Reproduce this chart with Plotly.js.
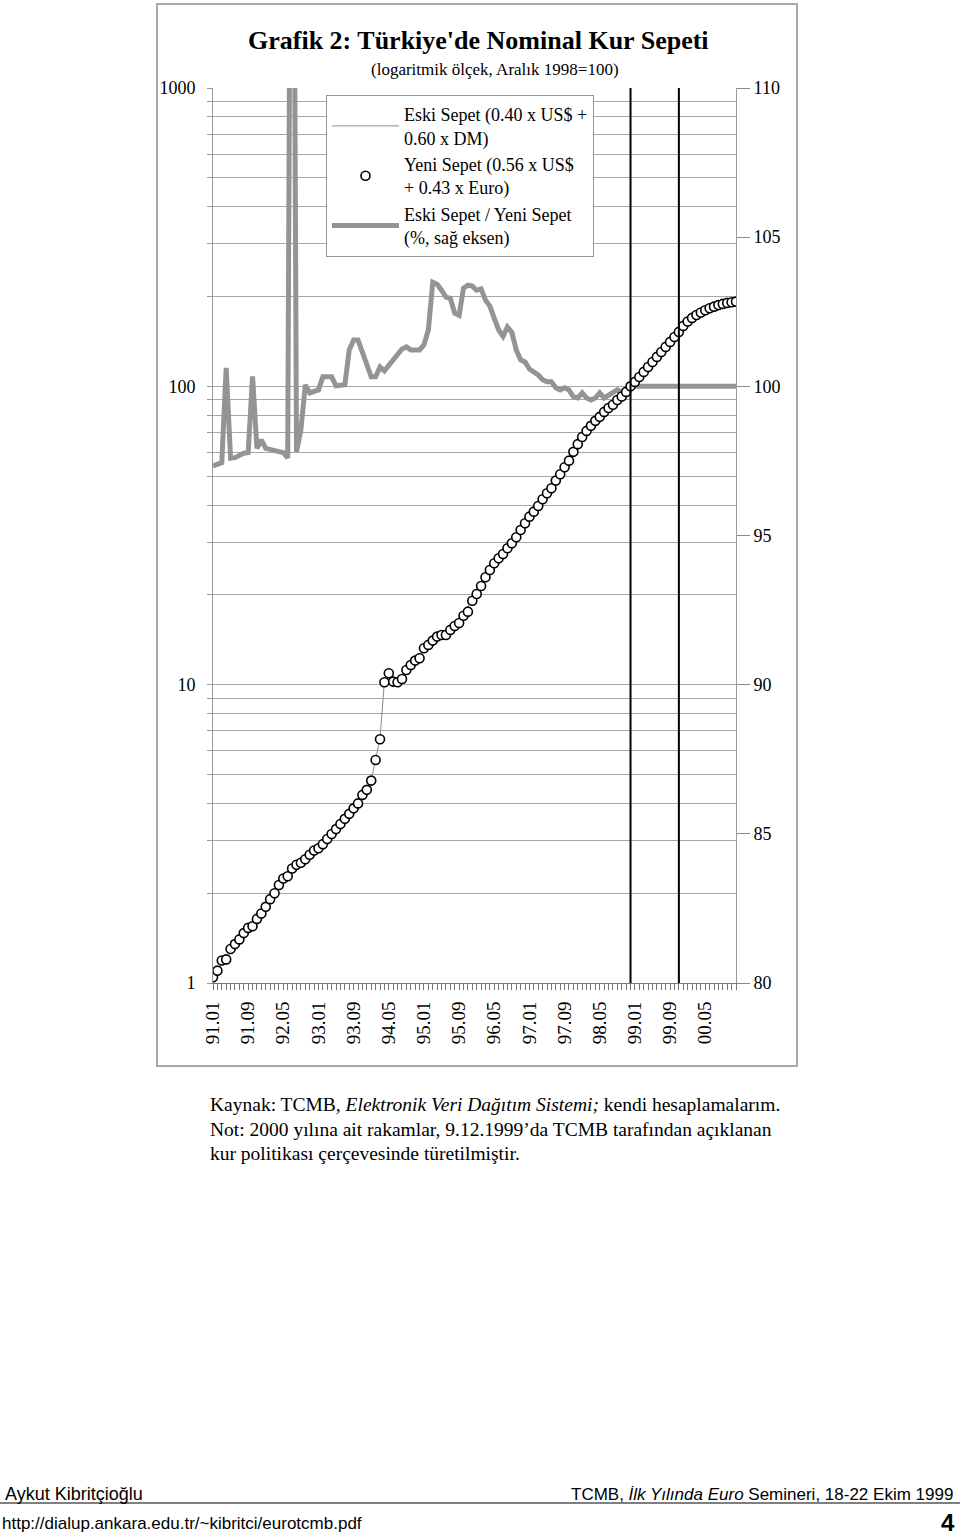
<!DOCTYPE html>
<html>
<head>
<meta charset="utf-8">
<script src="https://cdn.plot.ly/plotly-3.0.1.min.js"></script>
<style>
body{margin:0;padding:0;background:#fff;}
#chart{width:960px;height:1535px;}
</style>
</head>
<body>
<div id="chart"></div>
<script>
// aylar 91.01 ... 00.12
var months = [];
for (var y = 1991; y <= 2000; y++) {
  for (var m = 1; m <= 12; m++) {
    months.push(String(y % 100).padStart(2, '0') + '.' + String(m).padStart(2, '0'));
  }
}

var tickLabels = ['91.01','91.09','92.05','93.01','93.09','94.05','95.01','95.09','96.05','97.01','97.09','98.05','99.01','99.09','00.05'];
var lineMonths = ['98.12','99.11'];

var yeniSepet = [
  1.045,1.10,1.19,1.20,1.30,1.35,1.40,1.47,1.53,1.55,
  1.64,1.71,1.80,1.91,2.00,2.13,2.24,2.28,2.42,2.49,
  2.53,2.60,2.69,2.78,2.83,2.92,3.04,3.16,3.28,3.41,
  3.55,3.69,3.85,4.00,4.27,4.44,4.77,5.59,6.56,10.19,
  10.92,10.24,10.19,10.45,11.20,11.64,12.04,12.26,13.24,13.59,
  14.05,14.49,14.68,14.68,15.26,15.73,16.10,17.03,17.57,19.12,
  20.14,21.42,22.92,24.24,25.53,26.54,27.43,28.67,29.79,31.20,
  33.01,34.76,36.58,38.02,39.72,41.83,43.82,45.54,48.30,50.75,
  53.56,56.36,60.3,64.0,67.6,70.9,73.7,76.6,79.0,82.1,
  84.6,86.7,90.0,92.5,95.8,100,103.5,107.5,111.8,116.1,
  120.7,125.5,130.4,135.6,140.9,146.4,152.2,159.4,165.0,169.6,
  173.5,176.9,179.9,182.6,185.0,187.2,188.9,190.4,191.4,192.3
];

var eskiSepet = [
  1.017,1.071,1.160,1.207,1.269,1.318,1.368,1.437,1.496,1.555,
  1.606,1.679,1.763,1.869,1.957,2.083,2.190,2.225,2.367,2.435,
  2.493,2.601,2.684,2.776,2.827,2.929,3.050,3.170,3.281,3.411,
  3.552,3.735,3.910,4.062,4.319,4.471,4.785,5.608,6.603,10.24,
  10.99,10.33,10.30,10.58,11.35,11.78,12.19,12.41,13.42,13.85,
  14.54,14.99,15.15,15.12,15.71,16.12,16.48,17.59,18.17,19.76,
  20.79,22.12,23.58,24.89,26.11,27.04,27.89,29.24,30.33,31.58,
  33.30,35.05,36.79,38.20,39.87,41.92,43.89,45.61,48.28,50.69,
  53.53,56.29,60.09,63.75,67.45,70.62,73.36,76.30,78.83,81.78,
  84.35,86.51,89.89,92.32,95.72,100,103.5,107.5,111.8,116.1,
  120.7,125.5,130.4,135.6,140.9,146.4,152.2,159.4,165.0,169.6,
  173.5,176.9,179.9,182.6,185.0,187.2,188.9,190.4,191.4,192.3
];

var oran = [
  97.33,97.40,97.44,100.62,97.59,97.61,97.70,97.76,97.78,100.33,
  97.92,98.20,97.92,97.87,97.83,97.81,97.78,97.60,130,97.81,
  98.54,100.05,99.78,99.85,99.88,100.32,100.32,100.32,100.02,100.02,
  100.05,101.22,101.55,101.55,101.15,100.69,100.32,100.32,100.65,100.52,
  100.69,100.89,101.05,101.25,101.32,101.22,101.22,101.22,101.39,101.89,
  103.49,103.42,103.22,102.99,102.95,102.45,102.38,103.29,103.39,103.36,
  103.22,103.27,102.89,102.69,102.28,101.89,101.68,101.99,101.81,101.22,
  100.89,100.82,100.58,100.48,100.38,100.22,100.15,100.15,99.95,99.88,
  99.95,99.88,99.65,99.61,99.78,99.61,99.54,99.61,99.78,99.61,
  99.71,99.78,99.88,99.81,99.92,100,100,100,100,100,
  100,100,100,100,100,100,100,100,100,100,
  100,100,100,100,100,100,100,100,100,100
];

function px(x){ return (x-213)/523; }
function py(y){ return (983-y)/895; }

function ciz(){
  var idx = [];
  for (var i = 0; i < months.length; i++) idx.push(i);
  var tickIdx = tickLabels.map(function(t){ return months.indexOf(t); });

  var minorLog = [];
  [1,10,100].forEach(function(d){ for (var k = 2; k <= 9; k++) minorLog.push(k*d); });

  var serif = 'Liberation Serif, Times New Roman, serif';
  var narrow = 'Liberation Sans Narrow, Arial Narrow, sans-serif';

  var trace1 = {
    x: idx, y: eskiSepet, yaxis: 'y2', type: 'scatter', mode: 'lines',
    name: 'Eski Sepet (0.40 x US$ +<br>0.60 x DM)',
    line: {color: '#8c8c8c', width: 1}
  };
  var trace2 = {
    x: idx, y: yeniSepet, yaxis: 'y2', type: 'scatter', mode: 'markers',
    name: 'Yeni Sepet (0.56 x US$<br>+ 0.43 x Euro)',
    marker: {symbol: 'circle', size: 9, color: '#fff', line: {color: '#000', width: 1.6}}
  };
  var trace3 = {
    x: idx, y: oran, yaxis: 'y', type: 'scatter', mode: 'lines',
    name: 'Eski Sepet / Yeni Sepet<br>(%, sağ eksen)',
    line: {color: '#949494', width: 5}
  };

  var shapes = lineMonths.map(function(mm){
    return {type: 'line', xref: 'x', yref: 'paper', x0: months.indexOf(mm), x1: months.indexOf(mm),
            y0: 0, y1: 1, line: {color: '#000', width: 2}};
  });
  shapes.push({type: 'rect', xref: 'paper', yref: 'paper', x0: px(157), x1: px(797), y0: py(1066), y1: py(4),
               line: {color: '#a8a8a8', width: 2}});
  shapes.push({type: 'line', xref: 'paper', yref: 'paper', x0: px(0), x1: px(960), y0: py(1503), y1: py(1503),
               line: {color: '#000', width: 1}});

  var ann = [
    {text: "<b>Grafik 2: Türkiye'de Nominal Kur Sepeti</b>", x: px(478), y: py(40), font: {size: 26}},
    {text: '(logaritmik ölçek, Aralık 1998=100)', x: px(495), y: py(70), font: {size: 17}},
    {text: 'Kaynak: TCMB, <i>Elektronik Veri Dağıtım Sistemi;</i> kendi hesaplamalarım.', x: px(208), y: py(1104), xanchor: 'left', font: {size: 19.5}},
    {text: 'Not: 2000 yılına ait rakamlar, 9.12.1999’da TCMB tarafından açıklanan', x: px(208), y: py(1129), xanchor: 'left', font: {size: 19.5}},
    {text: 'kur politikası çerçevesinde türetilmiştir.', x: px(208), y: py(1153), xanchor: 'left', font: {size: 19.5}},
    {text: 'Aykut Kibritçioğlu', x: px(3), y: py(1494), xanchor: 'left', font: {size: 18, family: narrow}},
    {text: 'TCMB, <i>İlk Yılında Euro</i> Semineri, 18-22 Ekim 1999', x: px(955), y: py(1494), xanchor: 'right', font: {size: 17, family: narrow}},
    {text: 'http://dialup.ankara.edu.tr/~kibritci/eurotcmb.pdf', x: px(0), y: py(1524), xanchor: 'left', font: {size: 17, family: narrow}},
    {text: '<b>4</b>', x: px(957), y: py(1522), xanchor: 'right', font: {size: 24, family: narrow}}
  ];
  ann.forEach(function(a){
    a.xref = 'paper'; a.yref = 'paper'; a.showarrow = false;
    if (!a.xanchor) a.xanchor = 'center';
    a.yanchor = 'middle';
    if (!a.font.family) a.font.family = serif;
    a.font.color = '#000';
  });

  var layout = {
    width: 960, height: 1535,
    margin: {l: 213, r: 224, t: 88, b: 552, pad: 0},
    paper_bgcolor: '#fff', plot_bgcolor: '#fff',
    font: {family: serif, size: 18, color: '#000'},
    showlegend: true,
    legend: {x: px(326), y: py(95), xanchor: 'left', yanchor: 'top', bgcolor: '#fff',
             bordercolor: '#999', borderwidth: 1, font: {family: serif, size: 18, color: '#000'},
             itemwidth: 67, tracegroupgap: 0},
    xaxis: {range: [0, 119], tickvals: tickIdx, ticktext: tickLabels, tickangle: -90,
            ticks: 'outside', ticklen: 6, tickcolor: '#777', showgrid: false, zeroline: false,
            showline: true, linecolor: '#777', linewidth: 1, ticklabelstandoff: 4,
            tickfont: {family: serif, size: 19, color: '#000'},
            minor: {dtick: 1, ticks: 'outside', ticklen: 6, tickcolor: '#777', showgrid: false}},
    yaxis: {range: [80, 110], dtick: 5, side: 'right', showgrid: false, zeroline: false,
            ticks: 'outside', ticklen: 13, tickcolor: '#888', showline: true, linecolor: '#999',
            tickfont: {family: serif, size: 18, color: '#000'}},
    yaxis2: {type: 'log', range: [0, 3], overlaying: 'y', side: 'left',
             tickvals: [1, 10, 100, 1000], ticktext: ['1', '10', '100', '1000'],
             ticks: 'outside', ticklen: 5, tickcolor: '#999', showgrid: true, gridcolor: '#a6a6a6', gridwidth: 1,
             showline: true, linecolor: '#999', zeroline: false, ticklabelstandoff: 8,
             tickfont: {family: serif, size: 18, color: '#000'},
             minor: {tickvals: minorLog, ticks: 'outside', ticklen: 5, tickcolor: '#999', showgrid: true, gridcolor: '#a6a6a6', gridwidth: 1}},
    shapes: shapes,
    annotations: ann
  };

  Plotly.newPlot(document.getElementById('chart'), [trace1, trace2, trace3], layout, {staticPlot: true, displayModeBar: false});
}
ciz();
</script>
</body>
</html>
